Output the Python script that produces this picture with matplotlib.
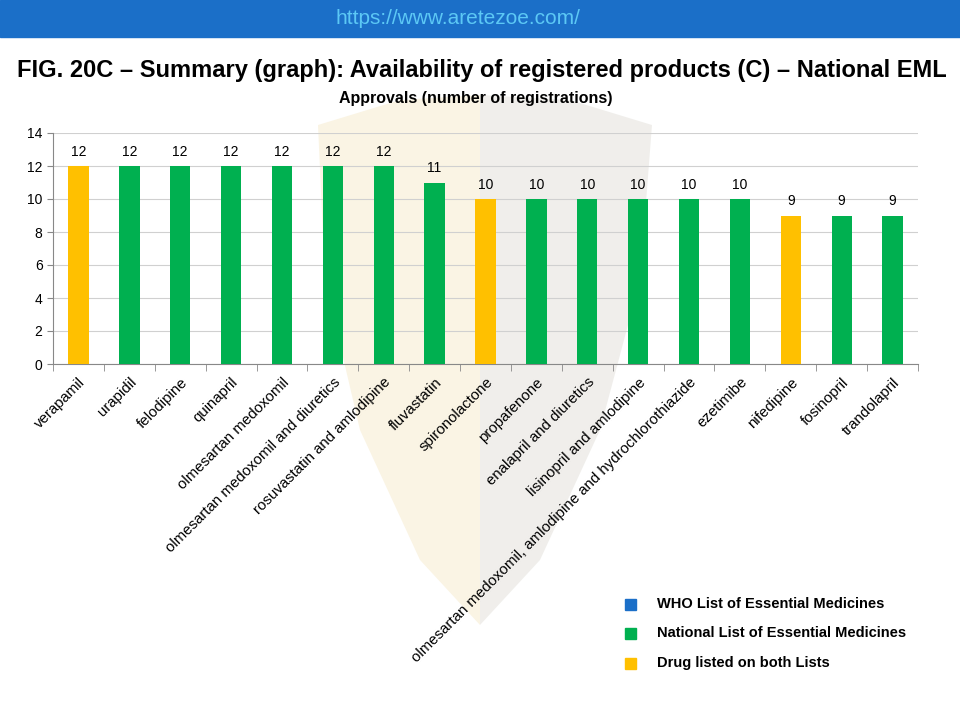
import matplotlib.pyplot as plt
from matplotlib.patches import Rectangle, Polygon

plt.rcParams['font.family'] = ['Liberation Sans', 'DejaVu Sans']

drugs = [
    "verapamil", "urapidil", "felodipine", "quinapril", "olmesartan medoxomil",
    "olmesartan medoxomil and diuretics", "rosuvastatin and amlodipine",
    "fluvastatin", "spironolactone", "propafenone", "enalapril and diuretics",
    "lisinopril and amlodipine",
    "olmesartan medoxomil, amlodipine and hydrochlorothiazide",
    "ezetimibe", "nifedipine", "fosinopril", "trandolapril",
]
approvals = [12, 12, 12, 12, 12, 12, 12, 11, 10, 10, 10, 10, 10, 10, 9, 9, 9]
on_both = [True, False, False, False, False, False, False, False, True,
           False, False, False, False, False, True, False, False]

legend_labels = ["WHO List of Essential Medicines",
                 "National List of Essential Medicines",
                 "Drug listed on both Lists"]

BLUE = "#1B6FC8"
GREEN = "#00B050"
ORANGE = "#FFC000"

W, H = 960, 720


def px(x, y):
    # pixel position (from top-left) -> figure fraction
    return (x / W, 1 - y / H)


fig = plt.figure(figsize=(9.6, 7.2), dpi=100)

# faint shield watermark, kept behind everything
left_half = [px(318, 125), px(400, 100), px(480, 95), px(480, 625),
             px(420, 560), px(360, 430), px(325, 280)]
right_half = [px(480, 95), px(570, 100), px(652, 125), px(640, 280),
              px(600, 430), px(540, 560), px(480, 625)]
fig.patches.append(Polygon(left_half, closed=True, transform=fig.transFigure,
                           color="#F7EDD2", alpha=0.6, zorder=-5, lw=0))
fig.patches.append(Polygon(right_half, closed=True, transform=fig.transFigure,
                           color="#E6E4DF", alpha=0.6, zorder=-5, lw=0))

# header band
fig.patches.append(Rectangle(px(0, 37), 1, 37 / H, transform=fig.transFigure,
                             color=BLUE, zorder=-4))
fig.text(458 / W, 1 - 19 / H, "https://www.aretezoe.com/", color="#5CC8F5",
         fontsize=15, ha="center", va="center")

fig.text(482 / W, 1 - 70 / H,
         "FIG. 20C \u2013 Summary (graph): Availability of registered products (C) \u2013 National EML",
         fontsize=17, fontweight="bold", ha="center", va="center")
fig.text(476 / W, 1 - 98 / H, "Approvals (number of registrations)",
         fontsize=11.5, fontweight="bold", ha="center", va="center")

ax = fig.add_axes([53 / W, 1 - 364 / H, 865 / W, 231 / H], zorder=2)

x = list(range(len(drugs)))
colors = [ORANGE if b else GREEN for b in on_both]
ax.bar(x, approvals, width=0.4, color=colors, zorder=3)
for xi, v in zip(x, approvals):
    ax.text(xi, v + 0.45, str(v), ha="center", va="bottom", fontsize=10)

ax.set_xlim(-0.5, len(drugs) - 0.5)
ax.set_ylim(0, 14)
ax.set_yticks(range(0, 15, 2))
ax.yaxis.grid(True, color="#D0D0D0", linewidth=0.8, zorder=0)
ax.set_axisbelow(True)

ax.set_xticks(x)
ax.set_xticklabels(drugs, rotation=45, ha="right", rotation_mode="anchor", fontsize=10.8)
ax.tick_params(axis="x", length=0, pad=8)
ax.set_xticks([i - 0.5 for i in range(len(drugs) + 1)], minor=True)
ax.tick_params(axis="x", which="minor", length=5, color="#888888")
ax.tick_params(axis="y", length=4, color="#888888", labelsize=10)

for s in ["top", "right"]:
    ax.spines[s].set_visible(False)
ax.spines["left"].set_color("#888888")
ax.spines["bottom"].set_color("#888888")
ax.patch.set_alpha(0)

# legend
leg_colors = [BLUE, GREEN, ORANGE]
leg_y = [604, 633, 663]
for c, lab, yy in zip(leg_colors, legend_labels, leg_y):
    fig.patches.append(Rectangle(px(625, yy + 6), 11 / W, 11 / H,
                                 transform=fig.transFigure, color=c))
    fig.text(657 / W, 1 - yy / H, lab, fontsize=10.5, fontweight="bold",
             ha="left", va="center")

fig.savefig("out.png", dpi=100)
